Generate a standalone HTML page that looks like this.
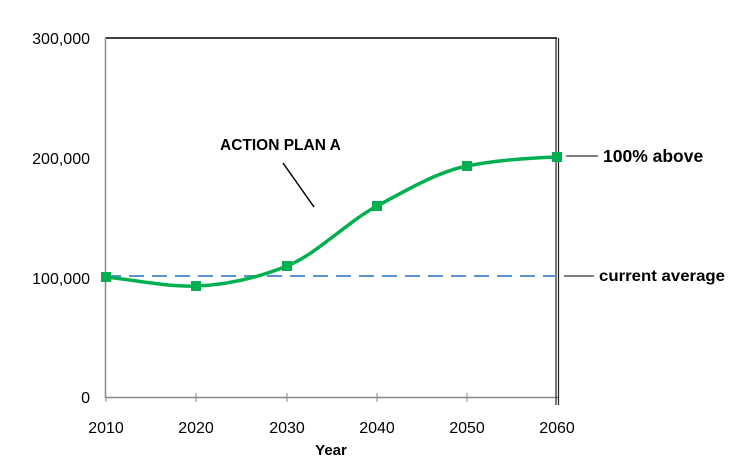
<!DOCTYPE html>
<html><head><style>
html,body{margin:0;padding:0;background:#fff;width:737px;height:462px;overflow:hidden}
svg text{font-family:"Liberation Sans",sans-serif}
</style></head><body>
<svg width="737" height="462" viewBox="0 0 737 462">
<rect x="0" y="0" width="737" height="462" fill="#fff"/>
<line x1="105" y1="38" x2="557" y2="38" stroke="#000" stroke-width="1.5"/>
<line x1="105.5" y1="37" x2="105.5" y2="398" stroke="#888" stroke-width="1.5"/>
<line x1="105" y1="397.5" x2="558" y2="397.5" stroke="#888" stroke-width="1.5"/>
<line x1="556" y1="38" x2="556" y2="405" stroke="#222" stroke-width="1.2"/>
<line x1="558.5" y1="38" x2="558.5" y2="405" stroke="#222" stroke-width="1.2"/>
<g stroke="#888" stroke-width="1">
<line x1="196" y1="393" x2="196" y2="402"/><line x1="287" y1="393" x2="287" y2="402"/>
<line x1="377" y1="393" x2="377" y2="402"/><line x1="467" y1="393" x2="467" y2="402"/>
<line x1="106" y1="397" x2="106" y2="402"/>
</g>
<g font-size="16" fill="#000" text-anchor="end">
<text x="90" y="44">300,000</text><text x="90" y="164">200,000</text>
<text x="90" y="284">100,000</text><text x="90" y="403">0</text>
</g>
<g font-size="16" fill="#000" text-anchor="middle">
<text x="106" y="433">2010</text><text x="196" y="433">2020</text><text x="287" y="433">2030</text>
<text x="377" y="433">2040</text><text x="467" y="433">2050</text><text x="557" y="433">2060</text>
<text x="331" y="455" font-size="15" font-weight="bold">Year</text>
</g>
<line x1="106" y1="276" x2="556" y2="276" stroke="#5b8fd6" stroke-width="2" stroke-dasharray="15,8"/>
<path d="M106,277 C136,280 166,287 196,286 C226,285 257,278 287,266 C317,254 347,222 377,206 C407,190 437,172 467,166 C497,160 527,158 557,157" fill="none" stroke="#00b050" stroke-width="3.5"/>
<g fill="#00b050">
<rect x="101" y="272" width="10" height="10"/><rect x="191" y="281" width="10" height="10"/>
<rect x="282" y="261" width="10" height="10"/><rect x="372" y="201" width="10" height="10"/>
<rect x="462" y="161" width="10" height="10"/><rect x="552" y="152" width="10" height="10"/>
</g>
<line x1="283" y1="163" x2="314" y2="207" stroke="#000" stroke-width="1.5"/>
<text x="220" y="150" font-size="15.5" font-weight="bold">ACTION PLAN A</text>
<line x1="566" y1="156" x2="598" y2="156" stroke="#000" stroke-width="1"/>
<text x="603" y="162" font-size="17.5" font-weight="bold">100% above</text>
<line x1="564" y1="276" x2="594" y2="276" stroke="#000" stroke-width="1"/>
<text x="599" y="281" font-size="16" font-weight="bold" textLength="126" lengthAdjust="spacingAndGlyphs">current average</text>
</svg>
</body></html>
